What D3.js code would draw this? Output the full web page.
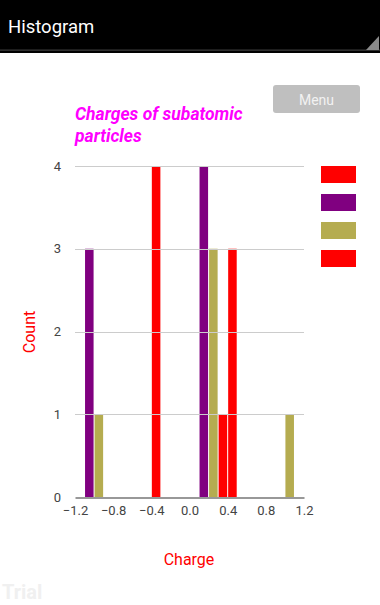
<!DOCTYPE html>
<html>
<head>
<meta charset="utf-8">
<script src="https://cdn.jsdelivr.net/npm/d3@7"></script>
<style>
  html, body { margin: 0; padding: 0; background: #fff; }
  body { width: 380px; height: 605px; overflow: hidden; font-family: Roboto, "Noto Sans", sans-serif; }
</style>
</head>
<body>
<div id="chart"></div>
<script>
// histogram bins (start of bin), width 0.1
var binWidth = 0.1;
var seriesColors = ["#ff0000", "#800080", "#b5ac50", "#ff0000"];
var seriesBins = [
    [-0.4, 0.3],
    [-1.1, 0.1],
    [-1.0, 0.2, 1.0],
    [0.4]
];
var seriesCounts = [
    [4, 1],
    [3, 4],
    [1, 3, 1],
    [3]
];
var xTicks = [-1.2, -0.8, -0.4, 0.0, 0.4, 0.8, 1.2];
var yTicks = [0, 1, 2, 3, 4];

var width = 380, height = 605;
var svg = d3.select("#chart").append("svg")
    .attr("width", width)
    .attr("height", height);

// action bar
svg.append("rect").attr("x", 0).attr("y", 0).attr("width", width).attr("height", 53).attr("fill", "#000");
svg.append("rect").attr("x", 0).attr("y", 49.5).attr("width", width).attr("height", 1.3).attr("fill", "#3a3a3a");
svg.append("path").attr("d", "M366,50 L379,50 L379,36 Z").attr("fill", "#8a8a8a");
svg.append("text").attr("x", 8).attr("y", 33)
    .attr("fill", "#fff").style("font-size", "18.5px").text("Histogram");

// menu button
svg.append("rect").attr("x", 273).attr("y", 85).attr("width", 87).attr("height", 28)
    .attr("rx", 3).attr("fill", "#bfbfbf");
svg.append("text").attr("x", 316.5).attr("y", 104.5).attr("text-anchor", "middle")
    .attr("fill", "#f2f2f2").style("font-size", "14px").text("Menu");

// title
var title = svg.append("text").attr("fill", "#ff00ff")
    .style("font-size", "17.5px").style("font-weight", "bold").style("font-style", "italic");
title.append("tspan").attr("x", 75).attr("y", 120).text("Charges of subatomic");
title.append("tspan").attr("x", 75).attr("y", 142).text("particles");

var x = d3.scaleLinear().domain([-1.2, 1.2]).range([75, 304]);
var y = d3.scaleLinear().domain([0, 4]).range([497, 166]);

// bars
seriesBins.forEach(function (bins, s) {
    svg.append("g").selectAll("rect").data(bins).enter().append("rect")
        .attr("x", function (d) { return x(d) + 0.5; })
        .attr("width", function (d) { return x(d + binWidth) - x(d) - 1; })
        .attr("y", function (d, i) { return y(seriesCounts[s][i]); })
        .attr("height", function (d, i) { return y(0) - y(seriesCounts[s][i]); })
        .attr("fill", seriesColors[s]);
});

// gridlines drawn over bars, as in the reference
svg.append("g").selectAll("line").data(yTicks.slice(1)).enter().append("line")
    .attr("x1", 75).attr("x2", 304)
    .attr("y1", function (d) { return Math.round(y(d)) + 0.5; })
    .attr("y2", function (d) { return Math.round(y(d)) + 0.5; })
    .attr("stroke", "#cccccc").attr("stroke-width", 1);

// x axis
var xAxis = svg.append("g").attr("transform", "translate(0," + (Math.round(y(0)) + 0.5) + ")")
    .call(d3.axisBottom(x).tickValues(xTicks).tickSize(0).tickPadding(8)
        .tickFormat(d3.format(".1f")));
xAxis.select(".domain").attr("stroke", "#333").attr("stroke-width", 1.2);
xAxis.selectAll("text").attr("fill", "#444").style("font-size", "13px").style("font-family", "Roboto");

// y axis labels
var yAxis = svg.append("g").attr("transform", "translate(75,0)")
    .call(d3.axisLeft(y).tickValues(yTicks).tickSize(0).tickPadding(14).tickFormat(d3.format("d")));
yAxis.select(".domain").remove();
yAxis.selectAll("text").attr("fill", "#444").style("font-size", "13px").style("font-family", "Roboto");

// axis titles
svg.append("text").attr("x", 189).attr("y", 565).attr("text-anchor", "middle")
    .attr("fill", "#ff0000").style("font-size", "16px").text("Charge");
svg.append("text").attr("transform", "translate(35,332) rotate(-90)").attr("text-anchor", "middle")
    .attr("fill", "#ff0000").style("font-size", "16px").text("Count");

// legend
svg.append("g").selectAll("rect").data(seriesColors).enter().append("rect")
    .attr("x", 321).attr("y", function (d, i) { return 166 + i * 28; })
    .attr("width", 35).attr("height", 17)
    .attr("fill", function (d) { return d; });

// watermark
svg.append("text").attr("x", 2).attr("y", 599).attr("fill", "#f0f0f0")
    .style("font-size", "20px").style("font-weight", "bold").text("Trial");
</script>
</body>
</html>
